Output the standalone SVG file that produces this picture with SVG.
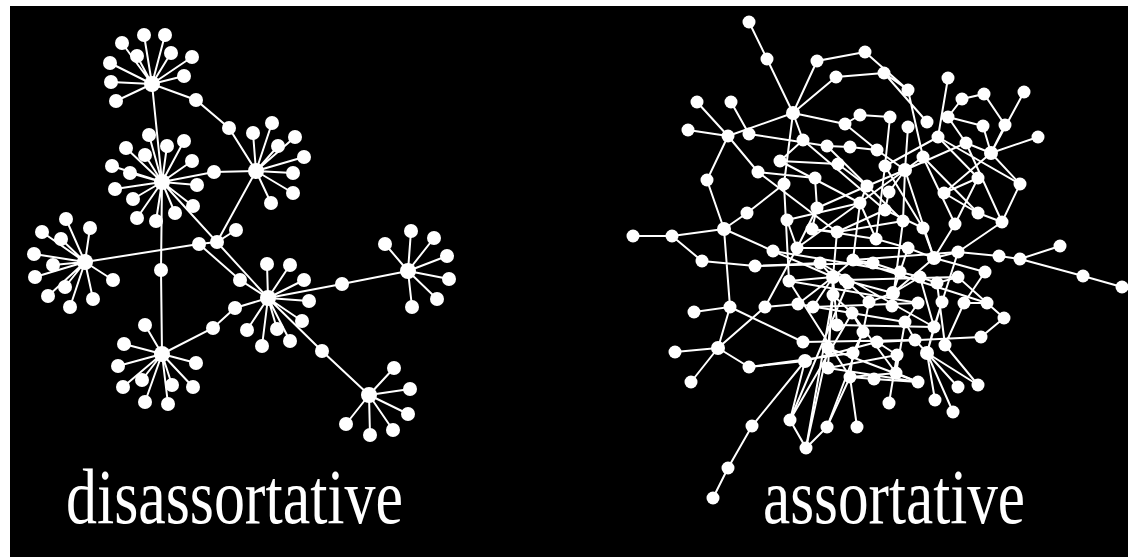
<svg xmlns="http://www.w3.org/2000/svg" width="1128" height="557" viewBox="0 0 1128 557">
<style>
.e{stroke:#fff;stroke-width:2;fill:none}
.n{fill:#fff}
.h{fill:#fff}
.t{font-family:"Liberation Serif","Times New Roman",serif;font-size:78px;fill:#fff}
</style>
<rect x="0" y="0" width="1128" height="557" fill="#fff"/>
<rect x="10" y="6" width="1118" height="551" fill="#000"/>
<g id="connectors" class="e">
<path d="M152,84L122,43M152,84L144,35M152,84L165,35M152,84L137,56M152,84L171,53M152,84L192,57M152,84L184,76M152,84L110,63M152,84L111,82M152,84L116,101M152,84L196,100L229,128L256,171M152,84L162,182"/>
<path d="M256,171L253,133M256,171L272,123M256,171L295,137M256,171L278,146M256,171L304,157M256,171L293,173M256,171L293,193M256,171L271,203M256,171L217,242"/>
<path d="M162,182L149,135M162,182L167,146M162,182L184,141M162,182L126,148M162,182L145,155M162,182L192,161M162,182L112,166M162,182L130,173M162,182L197,185M162,182L115,189M162,182L133,199M162,182L193,206M162,182L137,218M162,182L156,221M162,182L175,213M162,182L214,172L256,171M162,182L161,270L162,354M162,182L268,298"/>
<path d="M85,262L66,219M85,262L90,228M85,262L42,232M85,262L61,239M85,262L34,254M85,262L53,265M85,262L35,277M85,262L65,287M85,262L48,296M85,262L70,307M85,262L93,299M85,262L113,280M85,262L199,244L217,242L236,230M199,244L240,280L268,298"/>
<path d="M162,354L145,325M162,354L124,344M162,354L118,366M162,354L142,380M162,354L123,387M162,354L145,402M162,354L168,404M162,354L172,385M162,354L193,387M162,354L196,363M162,354L213,328L235,308L268,298"/>
<path d="M268,298L267,264M268,298L290,265M268,298L304,280M268,298L309,301M268,298L302,321M268,298L290,341M268,298L277,329M268,298L262,346M268,298L247,330M268,298L342,284L408,271M268,298L322,351L369,395"/>
<path d="M408,271L385,244M408,271L411,231M408,271L434,238M408,271L447,256M408,271L449,279M408,271L437,299M408,271L412,307"/>
<path d="M369,395L394,368M369,395L410,389M369,395L408,414M369,395L393,430M369,395L370,435M369,395L346,424"/>
<path d="M749,22L767,59L793,113M793,113L817,61L865,52M793,113L836,77L884,73M793,113L728,136M793,113L845,124M793,113L803,140M793,113L784,184M697,102L728,136M688,130L728,136M728,136L707,180L724,229M731,102L749,134L827,146M728,136L758,172L815,178M780,161L838,164M780,161L803,140M784,184L747,213M815,178L817,208M787,220L860,203M827,146L850,147M845,124L860,115M850,147L877,150M817,208L812,229M747,213L724,229M724,229L773,251M724,229L672,236L633,236M672,236L702,261L755,266L820,263M724,229L730,307L694,312M730,307L718,348M730,307L803,342M718,348L675,352M718,348L691,382M718,348L749,367L805,361M718,348L765,307L797,248L817,208M805,361L752,426L728,468L713,498M805,361L790,420L806,448L827,427L850,377L857,427"/>
<path d="M833,277L789,281M833,277L798,304M833,277L813,307M833,277L820,263M833,277L837,232M833,277L773,251M833,277L848,283M833,277L837,325M833,277L853,260M833,277L828,368M833,277L845,280M833,295L852,313M833,295L828,348M833,295L833,277"/>
<path d="M865,52L908,90M884,73L908,90M884,73L927,122M908,90L923,157M948,78L938,137M962,99L984,94L1005,125M1024,92L991,153M983,126L991,153M1005,125L991,153M1038,137L991,153M991,153L966,143M991,153L1020,184L1002,222M991,153L944,193M966,143L948,117L962,99M890,117L885,166M908,127L905,170M923,157L905,170M877,150L905,170M905,170L867,186M905,170L889,192M905,170L903,221M905,170L966,143M845,124L877,150M978,178L944,193M978,178L938,137M944,193L978,213L1002,222M955,224L934,258M1002,222L958,252M923,228L934,258M908,248L934,258M934,258L958,252L999,256L1020,259L1060,246M1020,259L1083,276L1122,287M934,258L985,272"/>
<path d="M867,186L860,203M889,192L885,210L923,228M860,203L876,239L908,248M853,260L873,263L900,272L920,277L937,283L958,277L987,303L964,303M987,303L1004,318L981,337L877,342M964,303L945,345M942,302L934,327M918,303L905,322M892,306L893,293L900,272M893,293L869,302M893,293L920,277M869,302L845,280M869,302L863,332M905,322L915,340L927,353M927,353L958,387M927,353L978,385M927,353L953,412M927,353L935,400M918,382L896,373M897,355L889,403M853,353L850,377M853,353L863,332L852,313M934,327L927,353M877,342L897,355M874,379L918,382M896,373L905,322M927,353L942,302"/>
<path d="M797,248L905,170M837,232L903,221M813,307L918,303M837,325L934,327M803,342L915,340M828,368L897,355M828,348L918,382M790,420L848,283M806,448L833,295M934,258L893,293M908,248L900,272M903,221L892,306M885,166L876,239M923,157L955,224M938,137L885,166M860,115L890,117M838,164L867,186M784,184L789,281M787,220L797,248M812,229L837,232M789,281L850,377M765,307L798,304M853,260L958,252M945,345L978,385M852,313L896,373M850,377L874,379M860,203L853,260"/>
<path d="M833,277L893,293M845,280L958,277M853,260L987,303M820,263L934,327M798,304L905,322M789,281L918,303M749,367L853,353M805,361L877,342M828,368L918,382M850,377L897,373M790,420L852,313M827,427L863,332M806,448L828,348M773,251L900,272M755,266L873,263M797,248L908,248M812,229L876,239M837,232L885,210M817,208L867,186M803,140L885,210M827,146L903,221M780,161L860,203M758,172L837,232M905,170L934,258M885,166L923,228M923,157L978,213M938,137L1020,184M966,143L1002,222M948,117L983,126M955,224L978,178M958,252L942,302M985,272L964,303M920,277L934,327M937,283L945,345"/>
</g>
<g id="disassortative-network">
<g id="dA"><circle class="h" cx="152" cy="84" r="8"/></g>
<g id="dA1"><circle class="n" cx="122" cy="43" r="7"/></g>
<g id="dA2"><circle class="n" cx="144" cy="35" r="7"/></g>
<g id="dA3"><circle class="n" cx="165" cy="35" r="7"/></g>
<g id="dA4"><circle class="n" cx="137" cy="56" r="7"/></g>
<g id="dA5"><circle class="n" cx="171" cy="53" r="7"/></g>
<g id="dA6"><circle class="n" cx="192" cy="57" r="7"/></g>
<g id="dA7"><circle class="n" cx="184" cy="76" r="7"/></g>
<g id="dA8"><circle class="n" cx="110" cy="63" r="7"/></g>
<g id="dA9"><circle class="n" cx="111" cy="82" r="7"/></g>
<g id="dA10"><circle class="n" cx="116" cy="101" r="7"/></g>
<g id="dAB1"><circle class="n" cx="196" cy="100" r="7"/></g>
<g id="dAB2"><circle class="n" cx="229" cy="128" r="7"/></g>
<g id="dB"><circle class="h" cx="256" cy="171" r="8"/></g>
<g id="dB1"><circle class="n" cx="253" cy="133" r="7"/></g>
<g id="dB2"><circle class="n" cx="272" cy="123" r="7"/></g>
<g id="dB3"><circle class="n" cx="295" cy="137" r="7"/></g>
<g id="dB4"><circle class="n" cx="278" cy="146" r="7"/></g>
<g id="dB5"><circle class="n" cx="304" cy="157" r="7"/></g>
<g id="dB6"><circle class="n" cx="293" cy="173" r="7"/></g>
<g id="dB7"><circle class="n" cx="293" cy="193" r="7"/></g>
<g id="dB8"><circle class="n" cx="271" cy="203" r="7"/></g>
<g id="dC"><circle class="h" cx="162" cy="182" r="8"/></g>
<g id="dC1"><circle class="n" cx="149" cy="135" r="7"/></g>
<g id="dC2"><circle class="n" cx="167" cy="146" r="7"/></g>
<g id="dC3"><circle class="n" cx="184" cy="141" r="7"/></g>
<g id="dC4"><circle class="n" cx="126" cy="148" r="7"/></g>
<g id="dC5"><circle class="n" cx="145" cy="155" r="7"/></g>
<g id="dC6"><circle class="n" cx="192" cy="161" r="7"/></g>
<g id="dC7"><circle class="n" cx="112" cy="166" r="7"/></g>
<g id="dC8"><circle class="n" cx="130" cy="173" r="7"/></g>
<g id="dC9"><circle class="n" cx="197" cy="185" r="7"/></g>
<g id="dC10"><circle class="n" cx="115" cy="189" r="7"/></g>
<g id="dC11"><circle class="n" cx="133" cy="199" r="7"/></g>
<g id="dC12"><circle class="n" cx="193" cy="206" r="7"/></g>
<g id="dC13"><circle class="n" cx="137" cy="218" r="7"/></g>
<g id="dC14"><circle class="n" cx="156" cy="221" r="7"/></g>
<g id="dC15"><circle class="n" cx="175" cy="213" r="7"/></g>
<g id="dCB"><circle class="n" cx="214" cy="172" r="7"/></g>
<g id="dCG"><circle class="n" cx="161" cy="270" r="7"/></g>
<g id="dG"><circle class="h" cx="162" cy="354" r="8"/></g>
<g id="dG1"><circle class="n" cx="145" cy="325" r="7"/></g>
<g id="dG2"><circle class="n" cx="124" cy="344" r="7"/></g>
<g id="dG3"><circle class="n" cx="118" cy="366" r="7"/></g>
<g id="dG4"><circle class="n" cx="142" cy="380" r="7"/></g>
<g id="dG5"><circle class="n" cx="123" cy="387" r="7"/></g>
<g id="dG6"><circle class="n" cx="145" cy="402" r="7"/></g>
<g id="dG7"><circle class="n" cx="168" cy="404" r="7"/></g>
<g id="dG8"><circle class="n" cx="172" cy="385" r="7"/></g>
<g id="dG9"><circle class="n" cx="193" cy="387" r="7"/></g>
<g id="dG10"><circle class="n" cx="196" cy="363" r="7"/></g>
<g id="dF"><circle class="h" cx="85" cy="262" r="8"/></g>
<g id="dF1"><circle class="n" cx="66" cy="219" r="7"/></g>
<g id="dF2"><circle class="n" cx="90" cy="228" r="7"/></g>
<g id="dF3"><circle class="n" cx="42" cy="232" r="7"/></g>
<g id="dF4"><circle class="n" cx="61" cy="239" r="7"/></g>
<g id="dF5"><circle class="n" cx="34" cy="254" r="7"/></g>
<g id="dF6"><circle class="n" cx="53" cy="265" r="7"/></g>
<g id="dF7"><circle class="n" cx="35" cy="277" r="7"/></g>
<g id="dF8"><circle class="n" cx="65" cy="287" r="7"/></g>
<g id="dF9"><circle class="n" cx="48" cy="296" r="7"/></g>
<g id="dF10"><circle class="n" cx="70" cy="307" r="7"/></g>
<g id="dF11"><circle class="n" cx="93" cy="299" r="7"/></g>
<g id="dF12"><circle class="n" cx="113" cy="280" r="7"/></g>
<g id="dX1"><circle class="n" cx="199" cy="244" r="7"/></g>
<g id="dX2"><circle class="n" cx="217" cy="242" r="7"/></g>
<g id="dX3"><circle class="n" cx="236" cy="230" r="7"/></g>
<g id="dX4"><circle class="n" cx="240" cy="280" r="7"/></g>
<g id="dGD1"><circle class="n" cx="213" cy="328" r="7"/></g>
<g id="dGD2"><circle class="n" cx="235" cy="308" r="7"/></g>
<g id="dD"><circle class="h" cx="268" cy="298" r="8"/></g>
<g id="dD1"><circle class="n" cx="267" cy="264" r="7"/></g>
<g id="dD2"><circle class="n" cx="290" cy="265" r="7"/></g>
<g id="dD3"><circle class="n" cx="304" cy="280" r="7"/></g>
<g id="dD4"><circle class="n" cx="309" cy="301" r="7"/></g>
<g id="dD5"><circle class="n" cx="302" cy="321" r="7"/></g>
<g id="dD6"><circle class="n" cx="290" cy="341" r="7"/></g>
<g id="dD7"><circle class="n" cx="277" cy="329" r="7"/></g>
<g id="dD8"><circle class="n" cx="262" cy="346" r="7"/></g>
<g id="dD9"><circle class="n" cx="247" cy="330" r="7"/></g>
<g id="dDH"><circle class="n" cx="342" cy="284" r="7"/></g>
<g id="dH"><circle class="h" cx="408" cy="271" r="8"/></g>
<g id="dH1"><circle class="n" cx="385" cy="244" r="7"/></g>
<g id="dH2"><circle class="n" cx="411" cy="231" r="7"/></g>
<g id="dH3"><circle class="n" cx="434" cy="238" r="7"/></g>
<g id="dH4"><circle class="n" cx="447" cy="256" r="7"/></g>
<g id="dH5"><circle class="n" cx="449" cy="279" r="7"/></g>
<g id="dH6"><circle class="n" cx="437" cy="299" r="7"/></g>
<g id="dH7"><circle class="n" cx="412" cy="307" r="7"/></g>
<g id="dDI"><circle class="n" cx="322" cy="351" r="7"/></g>
<g id="dI"><circle class="h" cx="369" cy="395" r="8"/></g>
<g id="dI1"><circle class="n" cx="394" cy="368" r="7"/></g>
<g id="dI2"><circle class="n" cx="410" cy="389" r="7"/></g>
<g id="dI3"><circle class="n" cx="408" cy="414" r="7"/></g>
<g id="dI4"><circle class="n" cx="393" cy="430" r="7"/></g>
<g id="dI5"><circle class="n" cx="370" cy="435" r="7"/></g>
<g id="dI6"><circle class="n" cx="346" cy="424" r="7"/></g>
</g>
<g id="assortative-network">
<g id="a1"><circle class="n" cx="749" cy="22" r="6.5"/></g>
<g id="a2"><circle class="n" cx="767" cy="59" r="6.5"/></g>
<g id="a3"><circle class="n" cx="817" cy="61" r="6.5"/></g>
<g id="a4"><circle class="n" cx="865" cy="52" r="6.5"/></g>
<g id="a5"><circle class="n" cx="836" cy="77" r="6.5"/></g>
<g id="a6"><circle class="h" cx="793" cy="113" r="7"/></g>
<g id="a7"><circle class="n" cx="697" cy="102" r="6.5"/></g>
<g id="a8"><circle class="n" cx="731" cy="102" r="6.5"/></g>
<g id="a9"><circle class="n" cx="688" cy="130" r="6.5"/></g>
<g id="a10"><circle class="n" cx="728" cy="136" r="6.5"/></g>
<g id="a11"><circle class="n" cx="749" cy="134" r="6.5"/></g>
<g id="a12"><circle class="n" cx="845" cy="124" r="6.5"/></g>
<g id="a13"><circle class="n" cx="860" cy="115" r="6.5"/></g>
<g id="a14"><circle class="n" cx="803" cy="140" r="6.5"/></g>
<g id="a15"><circle class="n" cx="827" cy="146" r="6.5"/></g>
<g id="a16"><circle class="n" cx="850" cy="147" r="6.5"/></g>
<g id="a17"><circle class="n" cx="780" cy="161" r="6.5"/></g>
<g id="a18"><circle class="n" cx="838" cy="164" r="6.5"/></g>
<g id="a19"><circle class="n" cx="758" cy="172" r="6.5"/></g>
<g id="a20"><circle class="n" cx="784" cy="184" r="6.5"/></g>
<g id="a21"><circle class="n" cx="815" cy="178" r="6.5"/></g>
<g id="a22"><circle class="n" cx="707" cy="180" r="6.5"/></g>
<g id="a23"><circle class="n" cx="817" cy="208" r="6.5"/></g>
<g id="a24"><circle class="n" cx="747" cy="213" r="6.5"/></g>
<g id="a25"><circle class="n" cx="787" cy="220" r="6.5"/></g>
<g id="a26"><circle class="n" cx="860" cy="203" r="6.5"/></g>
<g id="a27"><circle class="n" cx="884" cy="73" r="6.5"/></g>
<g id="a28"><circle class="n" cx="908" cy="90" r="6.5"/></g>
<g id="a29"><circle class="n" cx="948" cy="78" r="6.5"/></g>
<g id="a30"><circle class="n" cx="984" cy="94" r="6.5"/></g>
<g id="a31"><circle class="n" cx="1024" cy="92" r="6.5"/></g>
<g id="a32"><circle class="n" cx="962" cy="99" r="6.5"/></g>
<g id="a33"><circle class="n" cx="890" cy="117" r="6.5"/></g>
<g id="a34"><circle class="n" cx="908" cy="127" r="6.5"/></g>
<g id="a35"><circle class="n" cx="927" cy="122" r="6.5"/></g>
<g id="a36"><circle class="n" cx="948" cy="117" r="6.5"/></g>
<g id="a37"><circle class="n" cx="983" cy="126" r="6.5"/></g>
<g id="a38"><circle class="n" cx="1005" cy="125" r="6.5"/></g>
<g id="a39"><circle class="n" cx="1038" cy="137" r="6.5"/></g>
<g id="a40"><circle class="n" cx="938" cy="137" r="6.5"/></g>
<g id="a41"><circle class="n" cx="966" cy="143" r="6.5"/></g>
<g id="a42"><circle class="h" cx="991" cy="153" r="7"/></g>
<g id="a43"><circle class="n" cx="877" cy="150" r="6.5"/></g>
<g id="a44"><circle class="n" cx="923" cy="157" r="6.5"/></g>
<g id="a45"><circle class="n" cx="885" cy="166" r="6.5"/></g>
<g id="a46"><circle class="h" cx="905" cy="170" r="7"/></g>
<g id="a47"><circle class="n" cx="978" cy="178" r="6.5"/></g>
<g id="a48"><circle class="n" cx="1020" cy="184" r="6.5"/></g>
<g id="a49"><circle class="n" cx="867" cy="186" r="6.5"/></g>
<g id="a50"><circle class="n" cx="889" cy="192" r="6.5"/></g>
<g id="a51"><circle class="n" cx="944" cy="193" r="6.5"/></g>
<g id="a52"><circle class="n" cx="885" cy="210" r="6.5"/></g>
<g id="a53"><circle class="n" cx="978" cy="213" r="6.5"/></g>
<g id="a54"><circle class="n" cx="903" cy="221" r="6.5"/></g>
<g id="a55"><circle class="n" cx="923" cy="228" r="6.5"/></g>
<g id="a56"><circle class="n" cx="955" cy="224" r="6.5"/></g>
<g id="a57"><circle class="n" cx="1002" cy="222" r="6.5"/></g>
<g id="a58"><circle class="n" cx="876" cy="239" r="6.5"/></g>
<g id="a59"><circle class="n" cx="908" cy="248" r="6.5"/></g>
<g id="a60"><circle class="h" cx="934" cy="258" r="7"/></g>
<g id="a61"><circle class="n" cx="958" cy="252" r="6.5"/></g>
<g id="a62"><circle class="n" cx="999" cy="256" r="6.5"/></g>
<g id="a63"><circle class="n" cx="1020" cy="259" r="6.5"/></g>
<g id="a64"><circle class="n" cx="1060" cy="246" r="6.5"/></g>
<g id="a65"><circle class="n" cx="853" cy="260" r="6.5"/></g>
<g id="a66"><circle class="n" cx="1083" cy="276" r="6.5"/></g>
<g id="a67"><circle class="n" cx="1122" cy="287" r="6.5"/></g>
<g id="a68"><circle class="n" cx="985" cy="272" r="6.5"/></g>
<g id="a69"><circle class="n" cx="873" cy="263" r="6.5"/></g>
<g id="a70"><circle class="n" cx="900" cy="272" r="6.5"/></g>
<g id="a71"><circle class="n" cx="920" cy="277" r="6.5"/></g>
<g id="a72"><circle class="n" cx="937" cy="283" r="6.5"/></g>
<g id="a73"><circle class="n" cx="958" cy="277" r="6.5"/></g>
<g id="a74"><circle class="n" cx="845" cy="280" r="6.5"/></g>
<g id="a75"><circle class="h" cx="893" cy="293" r="7"/></g>
<g id="a76"><circle class="n" cx="869" cy="302" r="6.5"/></g>
<g id="a77"><circle class="n" cx="892" cy="306" r="6.5"/></g>
<g id="a78"><circle class="n" cx="918" cy="303" r="6.5"/></g>
<g id="a79"><circle class="n" cx="942" cy="302" r="6.5"/></g>
<g id="a80"><circle class="n" cx="964" cy="303" r="6.5"/></g>
<g id="a81"><circle class="n" cx="987" cy="303" r="6.5"/></g>
<g id="a82"><circle class="n" cx="1004" cy="318" r="6.5"/></g>
<g id="a83"><circle class="n" cx="852" cy="313" r="6.5"/></g>
<g id="a84"><circle class="n" cx="934" cy="327" r="6.5"/></g>
<g id="a85"><circle class="n" cx="905" cy="322" r="6.5"/></g>
<g id="a86"><circle class="n" cx="863" cy="332" r="6.5"/></g>
<g id="a87"><circle class="n" cx="877" cy="342" r="6.5"/></g>
<g id="a88"><circle class="n" cx="915" cy="340" r="6.5"/></g>
<g id="a89"><circle class="n" cx="945" cy="345" r="6.5"/></g>
<g id="a90"><circle class="n" cx="981" cy="337" r="6.5"/></g>
<g id="a91"><circle class="n" cx="853" cy="353" r="6.5"/></g>
<g id="a92"><circle class="n" cx="897" cy="355" r="6.5"/></g>
<g id="a93"><circle class="h" cx="927" cy="353" r="7"/></g>
<g id="a94"><circle class="n" cx="850" cy="377" r="6.5"/></g>
<g id="a95"><circle class="n" cx="874" cy="379" r="6.5"/></g>
<g id="a96"><circle class="n" cx="896" cy="373" r="6.5"/></g>
<g id="a97"><circle class="n" cx="918" cy="382" r="6.5"/></g>
<g id="a98"><circle class="n" cx="958" cy="387" r="6.5"/></g>
<g id="a99"><circle class="n" cx="978" cy="385" r="6.5"/></g>
<g id="a100"><circle class="n" cx="889" cy="403" r="6.5"/></g>
<g id="a101"><circle class="n" cx="935" cy="400" r="6.5"/></g>
<g id="a102"><circle class="n" cx="953" cy="412" r="6.5"/></g>
<g id="a103"><circle class="n" cx="857" cy="427" r="6.5"/></g>
<g id="a104"><circle class="n" cx="633" cy="236" r="6.5"/></g>
<g id="a105"><circle class="n" cx="672" cy="236" r="6.5"/></g>
<g id="a106"><circle class="h" cx="724" cy="229" r="7"/></g>
<g id="a107"><circle class="n" cx="702" cy="261" r="6.5"/></g>
<g id="a108"><circle class="n" cx="755" cy="266" r="6.5"/></g>
<g id="a109"><circle class="n" cx="773" cy="251" r="6.5"/></g>
<g id="a110"><circle class="n" cx="797" cy="248" r="6.5"/></g>
<g id="a111"><circle class="n" cx="812" cy="229" r="6.5"/></g>
<g id="a112"><circle class="n" cx="837" cy="232" r="6.5"/></g>
<g id="a113"><circle class="n" cx="820" cy="263" r="6.5"/></g>
<g id="a114"><circle class="h" cx="833" cy="277" r="7"/></g>
<g id="a115"><circle class="n" cx="848" cy="283" r="6.5"/></g>
<g id="a116"><circle class="n" cx="789" cy="281" r="6.5"/></g>
<g id="a117"><circle class="n" cx="694" cy="312" r="6.5"/></g>
<g id="a118"><circle class="n" cx="730" cy="307" r="6.5"/></g>
<g id="a119"><circle class="n" cx="765" cy="307" r="6.5"/></g>
<g id="a120"><circle class="n" cx="798" cy="304" r="6.5"/></g>
<g id="a121"><circle class="n" cx="813" cy="307" r="6.5"/></g>
<g id="a122"><circle class="n" cx="833" cy="295" r="6.5"/></g>
<g id="a123"><circle class="n" cx="837" cy="325" r="6.5"/></g>
<g id="a124"><circle class="n" cx="675" cy="352" r="6.5"/></g>
<g id="a125"><circle class="h" cx="718" cy="348" r="7"/></g>
<g id="a126"><circle class="n" cx="749" cy="367" r="6.5"/></g>
<g id="a127"><circle class="n" cx="803" cy="342" r="6.5"/></g>
<g id="a128"><circle class="h" cx="805" cy="361" r="7"/></g>
<g id="a129"><circle class="n" cx="828" cy="348" r="6.5"/></g>
<g id="a130"><circle class="n" cx="828" cy="368" r="6.5"/></g>
<g id="a131"><circle class="n" cx="691" cy="382" r="6.5"/></g>
<g id="a132"><circle class="n" cx="752" cy="426" r="6.5"/></g>
<g id="a133"><circle class="n" cx="790" cy="420" r="6.5"/></g>
<g id="a134"><circle class="n" cx="827" cy="427" r="6.5"/></g>
<g id="a135"><circle class="n" cx="806" cy="448" r="6.5"/></g>
<g id="a136"><circle class="n" cx="728" cy="468" r="6.5"/></g>
<g id="a137"><circle class="n" cx="713" cy="498" r="6.5"/></g>
</g>
<g id="labels">
<text class="t" x="66" y="523" textLength="337" lengthAdjust="spacingAndGlyphs">disassortative</text>
<text class="t" x="763" y="523" textLength="262" lengthAdjust="spacingAndGlyphs">assortative</text>
</g>
</svg>
